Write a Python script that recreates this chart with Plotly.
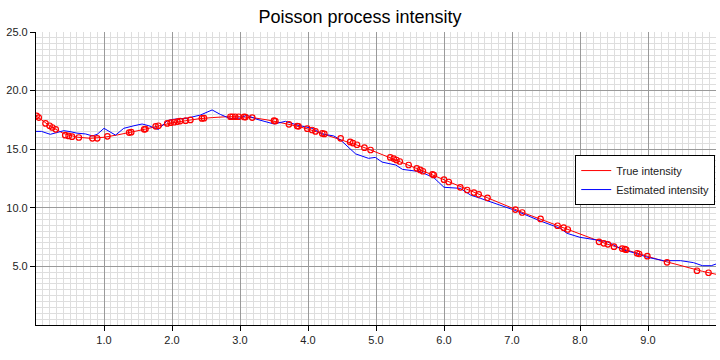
import plotly.graph_objects as go

# True intensity curve (sampled)
true_x = [0.0, 0.2, 0.4, 0.6, 0.8, 1.0, 1.2, 1.4, 1.6, 1.8, 2.0, 2.2, 2.4, 2.6, 2.8, 3.0,
          3.2, 3.4, 3.6, 3.8, 4.0, 4.2, 4.4, 4.6, 4.8, 5.0, 5.2, 5.4, 5.6, 5.8, 6.0,
          6.2, 6.4, 6.6, 6.8, 7.0, 7.2, 7.4, 7.6, 7.8, 8.0, 8.2, 8.4, 8.6, 8.8, 9.0,
          9.2, 9.4, 9.6, 9.8, 10.0]
true_y = [17.85, 17.0, 16.35, 16.03, 15.93, 16.02, 16.22, 16.45, 16.7, 16.98, 17.25, 17.43,
          17.6, 17.7, 17.77, 17.77, 17.68, 17.5, 17.28, 17.02, 16.72, 16.35, 15.98, 15.6,
          15.2, 14.75, 14.3, 13.82, 13.35, 12.88, 12.4, 11.9, 11.42, 10.92, 10.43, 9.95,
          9.5, 9.07, 8.63, 8.2, 7.77, 7.33, 6.9, 6.55, 6.18, 5.87, 5.5, 5.2, 4.88, 4.58, 4.33]

# Event times and intensity at events (markers)
event_x = [0.01, 0.04, 0.14, 0.2, 0.24, 0.29, 0.43, 0.48, 0.53, 0.63, 0.83, 0.9, 1.05,
           1.37, 1.4, 1.59, 1.61, 1.76, 1.8, 1.93, 1.98, 2.03, 2.08, 2.12, 2.2, 2.27,
           2.44, 2.47, 2.86, 2.89, 2.93, 2.98, 3.06, 3.08, 3.18, 3.5, 3.52, 3.72, 3.84,
           3.86, 3.99, 4.06, 4.11, 4.21, 4.24, 4.48, 4.62, 4.66, 4.72, 4.83, 4.92, 5.21,
           5.26, 5.3, 5.35, 5.48, 5.6, 5.65, 5.69, 5.83, 5.85, 6.0, 6.07, 6.24, 6.34,
           6.44, 6.51, 6.64, 7.05, 7.15, 7.42, 7.67, 7.76, 7.82, 8.28, 8.35, 8.41, 8.5,
           8.62, 8.66, 8.68, 8.84, 8.87, 8.99, 9.28, 9.72, 9.89]
event_y = [17.85, 17.7, 17.2, 17.0, 16.85, 16.7, 16.2, 16.13, 16.07, 16.0, 15.93, 15.93, 16.1,
           16.42, 16.45, 16.7, 16.72, 16.95, 17.0, 17.2, 17.26, 17.3, 17.36, 17.4, 17.43,
           17.5, 17.63, 17.65, 17.77, 17.77, 17.77, 17.77, 17.75, 17.74, 17.7, 17.43,
           17.4, 17.12, 16.98, 16.95, 16.75, 16.64, 16.52, 16.35, 16.3, 15.93, 15.62,
           15.52, 15.38, 15.13, 14.93, 14.3, 14.2, 14.08, 13.95, 13.65, 13.37, 13.23,
           13.12, 12.86, 12.8, 12.4, 12.2, 11.75, 11.52, 11.3, 11.15, 10.85, 9.85, 9.6,
           9.05, 8.47, 8.3, 8.15, 7.1, 6.97, 6.88, 6.68, 6.52, 6.47, 6.42, 6.12, 6.06,
           5.87, 5.35, 4.63, 4.46]

# Estimated intensity
est_x = [0.0, 0.08, 0.21, 0.41, 0.5, 0.6, 0.73, 0.83, 0.9, 1.0, 1.17, 1.29, 1.44, 1.56,
         1.66, 1.8, 1.93, 2.02, 2.22, 2.42, 2.59, 2.71, 2.86, 3.0, 3.1, 3.25, 3.5, 3.67,
         3.84, 4.06, 4.21, 4.38, 4.48, 4.7, 4.89, 4.99, 5.09, 5.29, 5.39, 5.65, 5.85,
         6.0, 6.24, 6.39, 6.54, 6.83, 7.03, 7.42, 7.71, 7.81, 8.0, 8.25, 8.4, 8.64,
         8.79, 8.99, 9.23, 9.48, 9.67, 9.8, 9.93, 10.0]
est_y = [16.52, 16.52, 16.27, 16.58, 16.5, 16.37, 16.3, 16.13, 16.27, 16.78, 16.2, 16.78,
         17.0, 17.15, 17.0, 16.68, 17.43, 17.55, 17.64, 17.92, 18.35, 17.97, 17.6, 17.65,
         17.9, 17.55, 17.15, 17.38, 17.06, 16.78, 16.3, 16.13, 15.78, 14.6, 14.22, 14.3,
         13.9, 13.65, 13.28, 13.08, 12.57, 11.75, 11.66, 11.09, 10.8, 10.24, 9.81, 8.87,
         8.25, 7.82, 7.48, 7.25, 7.11, 6.4, 6.17, 5.78, 5.49, 5.49, 5.32, 5.06, 5.06, 5.2]

x_ticks = [1, 2, 3, 4, 5, 6, 7, 8, 9]
x_labels = ["1.0", "2.0", "3.0", "4.0", "5.0", "6.0", "7.0", "8.0", "9.0"]
y_ticks = [5, 10, 15, 20, 25]
y_labels = ["5.0", "10.0", "15.0", "20.0", "25.0"]

FONT = "Liberation Sans, Arial, Helvetica"

fig = go.Figure()
fig.add_trace(go.Scatter(x=true_x, y=true_y, mode="lines", name="True intensity",
                         line=dict(color="#ff0000", width=1)))
fig.add_trace(go.Scatter(x=est_x, y=est_y, mode="lines", name="Estimated intensity",
                         line=dict(color="#0000ff", width=1)))
fig.add_trace(go.Scatter(x=event_x, y=event_y, mode="markers", showlegend=False,
                         marker=dict(symbol="circle-open", size=5.5, color="#ff0000",
                                     line=dict(width=1.2, color="#ff0000"))))

axis_common = dict(showline=True, linecolor="black", linewidth=1.2, ticks="outside",
                   ticklen=5, tickcolor="black", showgrid=True, gridcolor="#9a9a9a",
                   gridwidth=1, zeroline=False, mirror=False, automargin=False,
                   tickfont=dict(family=FONT, size=11, color="#222"))

fig.update_xaxes(range=[0, 10], tickvals=x_ticks, ticktext=x_labels,
                 minor=dict(dtick=0.1, showgrid=True, gridcolor="#dedede", gridwidth=1, ticks=""),
                 **axis_common)
fig.update_yaxes(range=[0, 25], tickvals=y_ticks, ticktext=y_labels,
                 minor=dict(dtick=0.5, showgrid=True, gridcolor="#dedede", gridwidth=1, ticks=""),
                 **axis_common)

fig.update_layout(
    width=720, height=360,
    margin=dict(l=36, r=4, t=32, b=35),
    paper_bgcolor="white", plot_bgcolor="white",
    title=dict(text="Poisson process intensity", x=0.5, xanchor="center",
               y=1 - 17 / 360, yanchor="middle",
               font=dict(family=FONT, size=18, color="black")),
    font=dict(family=FONT, size=11, color="#222"),
    legend=dict(x=0.793, y=0.58, xanchor="left", yanchor="top",
                bgcolor="white", bordercolor="black", borderwidth=1,
                font=dict(family=FONT, size=11, color="#222"), itemwidth=30),
    showlegend=True,
)

fig.write_html("out.html", config={"displayModeBar": False},
               post_script="document.body.style.margin='0';document.body.style.padding='0';")
